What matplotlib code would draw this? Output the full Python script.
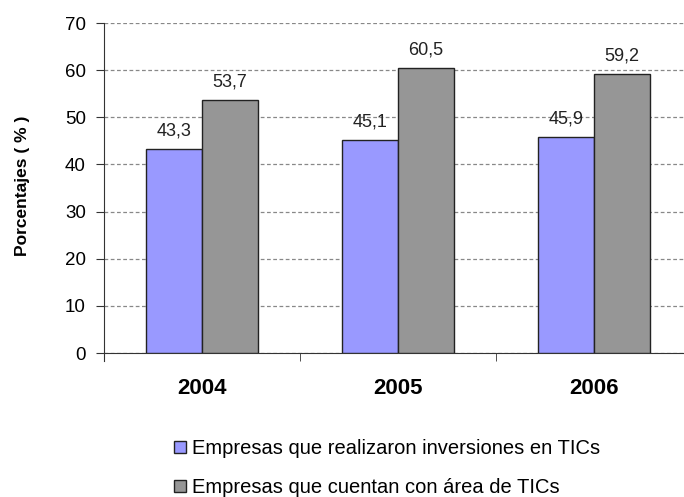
import matplotlib
matplotlib.use("Agg")
import matplotlib.pyplot as plt
import numpy as np

years = ["2004", "2005", "2006"]
series1_name = "Empresas que realizaron inversiones en TICs"
series2_name = "Empresas que cuentan con área de TICs"
series1 = [43.3, 45.1, 45.9]
series2 = [53.7, 60.5, 59.2]
yticks = [0, 10, 20, 30, 40, 50, 60, 70]

plt.rcParams['font.family'] = ['Liberation Sans', 'DejaVu Sans']

W, H = 684, 497
fig = plt.figure(figsize=(W/100, H/100), dpi=100)
ax = fig.add_axes([104/W, (H-353)/H, 588/W, 330/H])

x = np.arange(len(years))
bw = 0.286
b1 = ax.bar(x - bw/2, series1, bw, color="#9999FF", edgecolor="#222222", linewidth=1.0, label=series1_name, zorder=3)
b2 = ax.bar(x + bw/2, series2, bw, color="#969696", edgecolor="#222222", linewidth=1.0, label=series2_name, zorder=3)

def fmt(v):
    return f"{v:.1f}".replace(".", ",")

for xi, v in zip(x - bw/2, series1):
    ax.text(xi, v + 2.0, fmt(v), ha="center", va="bottom", fontsize=13, color="#222222")
for xi, v in zip(x + bw/2, series2):
    ax.text(xi, v + 2.0, fmt(v), ha="center", va="bottom", fontsize=13, color="#222222")

ax.set_xlim(-0.5, 2.5)
ax.set_ylim(0, 70)
ax.set_yticks(yticks)
ax.set_yticklabels([str(t) for t in yticks], fontsize=13.5)
ax.set_xticks(x)
ax.set_xticklabels(years, fontsize=16, fontweight="bold")
ax.set_xticks([0.5, 1.5], minor=True)
ax.tick_params(axis="x", which="major", length=0, pad=18)
ax.tick_params(axis="x", which="minor", length=6, direction="out", color="#333333")
ax.tick_params(axis="y", length=6, direction="out", color="#333333", pad=7)

ax.yaxis.grid(True, linestyle=(0, (3, 2)), color="#888888", linewidth=0.9, zorder=0)
ax.set_axisbelow(True)
for s in ["top", "right"]:
    ax.spines[s].set_visible(False)
ax.spines["left"].set_color("#333333")
ax.spines["bottom"].set_color("#333333")
ax.spines["left"].set_bounds(-1.8, 70)

fig.text(23/W, 1 - 186/H, "Porcentajes ( % )", rotation=90, fontsize=12.5, fontweight="bold",
         ha="center", va="center")

leg = fig.legend(handles=[b1, b2], labels=[series1_name, series2_name],
                 loc="upper left", bbox_to_anchor=(166/W, 1 - 431/H),
                 frameon=False, fontsize=14.5, ncol=1, handlelength=0.6, handleheight=0.6,
                 handletextpad=0.3, labelspacing=1.0, borderaxespad=0)

fig.savefig("out.png", dpi=100)
